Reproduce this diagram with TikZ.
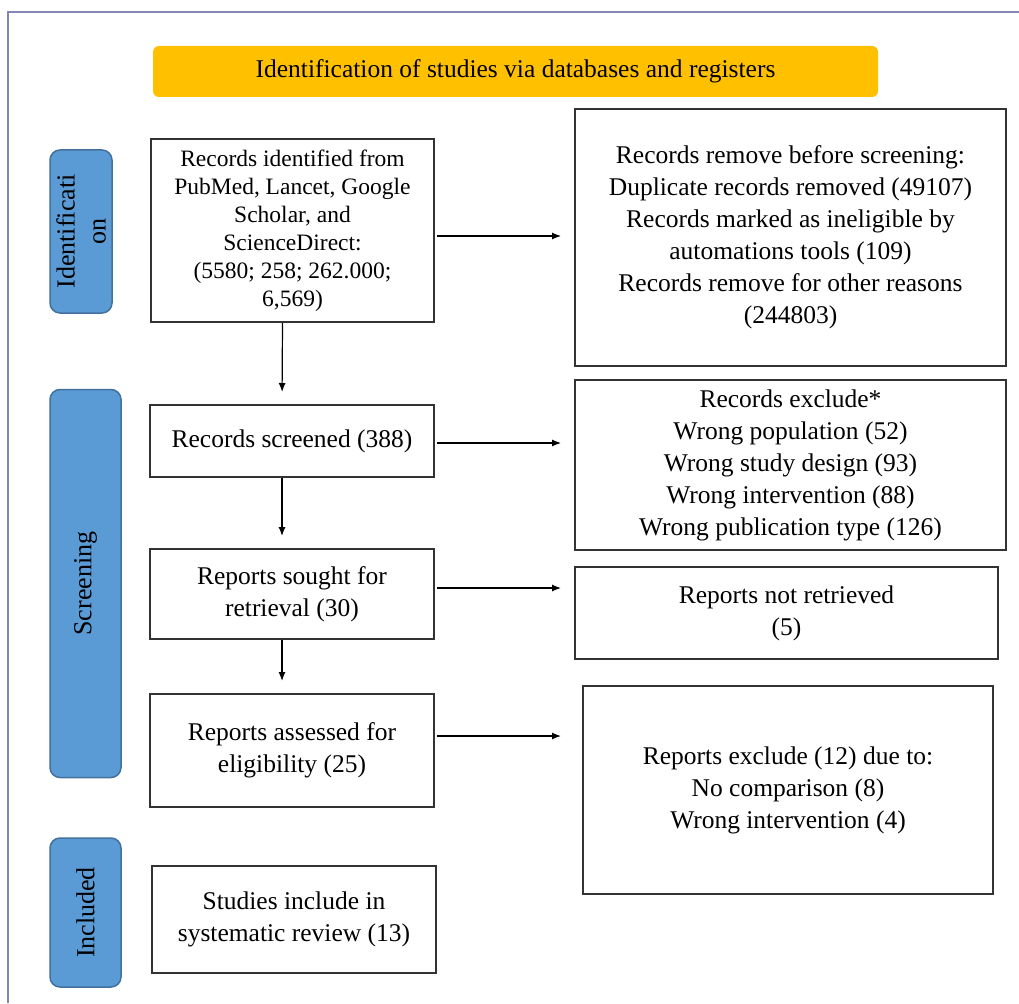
\documentclass[tikz,border=0pt]{standalone}
\usepackage{fontspec}
\setmainfont{Liberation Serif}
\usetikzlibrary{arrows.meta}
\definecolor{banner}{HTML}{FFC000}
\definecolor{phase}{HTML}{5B9BD5}
\definecolor{phaseline}{HTML}{41719C}
\definecolor{framecol}{HTML}{8585B5}
\tikzset{
	box/.style={draw=black!80, line width=2pt, align=center, inner sep=4pt, font=\fontsize{25.5}{32}\selectfont},
	phasebar/.style={fill=phase, draw=phaseline, line width=1.5pt, rounded corners=10pt, rotate=90, align=center, font=\fontsize{26}{31}\selectfont},
	arr/.style={-{Latex[length=9pt,width=7pt]}, line width=1.2pt}
}
\begin{document}
\begin{tikzpicture}[x=1pt,y=-1pt]
	    \useasboundingbox (0,0) rectangle (1019,1003);
	    \draw[framecol, line width=1.5pt] (8,1003) -- (8,12) -- (1019,12);
	    \node[fill=banner, rounded corners=6pt, minimum width=725pt, minimum height=51pt, font=\fontsize{25.5}{30}\selectfont] (banner) at (515.5,71.5) {Identification of studies via databases and registers};
		
	    \node[phasebar, minimum width=163pt, minimum height=62pt] (pid) at (81,231.5) {Identificati\\on};
	    \node[phasebar, minimum width=388pt, minimum height=71pt] (pscr) at (85.5,583.5) {Screening};
	    \node[phasebar, minimum width=149pt, minimum height=71pt] (pinc) at (85.5,912.5) {Included};
		
	    \node[box, minimum width=283pt, minimum height=183pt, font=\fontsize{23.5}{28}\selectfont] (ident) at (292.5,230.5) {Records identified from\\PubMed, Lancet, Google\\Scholar, and\\ScienceDirect:\\(5580; 258; 262.000;\\6,569)};
	    \node[box, minimum width=284pt, minimum height=72pt] (screen) at (292,441) {Records screened (388)};
	    \node[box, minimum width=284pt, minimum height=90pt] (sought) at (292,594) {Reports sought for\\retrieval (30)};
	    \node[box, minimum width=284pt, minimum height=113pt] (assess) at (292,750.5) {Reports assessed for\\eligibility (25)};
	    \node[box, minimum width=284pt, minimum height=107pt] (incl) at (294,919.5) {Studies include in\\systematic review (13)};
		
	    \node[box, minimum width=431pt, minimum height=256pt] (removed) at (790.5,237.5) {Records remove before screening:\\Duplicate records removed (49107)\\Records marked as ineligible by\\automations tools (109)\\Records remove for other reasons\\(244803)};
	    \node[box, minimum width=431pt, minimum height=170pt] (excl) at (790.5,465) {Records exclude*\\Wrong population (52)\\Wrong study design (93)\\Wrong intervention (88)\\Wrong publication type (126)};
	    \node[box, minimum width=423pt, minimum height=92pt] (notret) at (786.5,613) {Reports not retrieved\\(5)};
	    \node[box, minimum width=410pt, minimum height=208pt] (exrep) at (788,790) {Reports exclude (12) due to:\\No comparison (8)\\Wrong intervention (4)};
		
	    \foreach \a/\b/\dy/\gap in {ident/removed/-5.5/13, screen/excl/-2/13, sought/notret/6/13, assess/exrep/14.5/21}
		\draw[arr, shorten <=2pt, shorten >=\gap pt] ([yshift=\dy pt]\a.east) -- ([yshift=\dy pt]\a.east -| \b.west);
		
	    \foreach \a/\b in {ident/screen, screen/sought, sought/assess}
		\draw[arr, shorten >=12pt] ([xshift=-10pt]\a.south) -- ([xshift=-10pt]\b.north);
	\end{tikzpicture}
\end{document}
